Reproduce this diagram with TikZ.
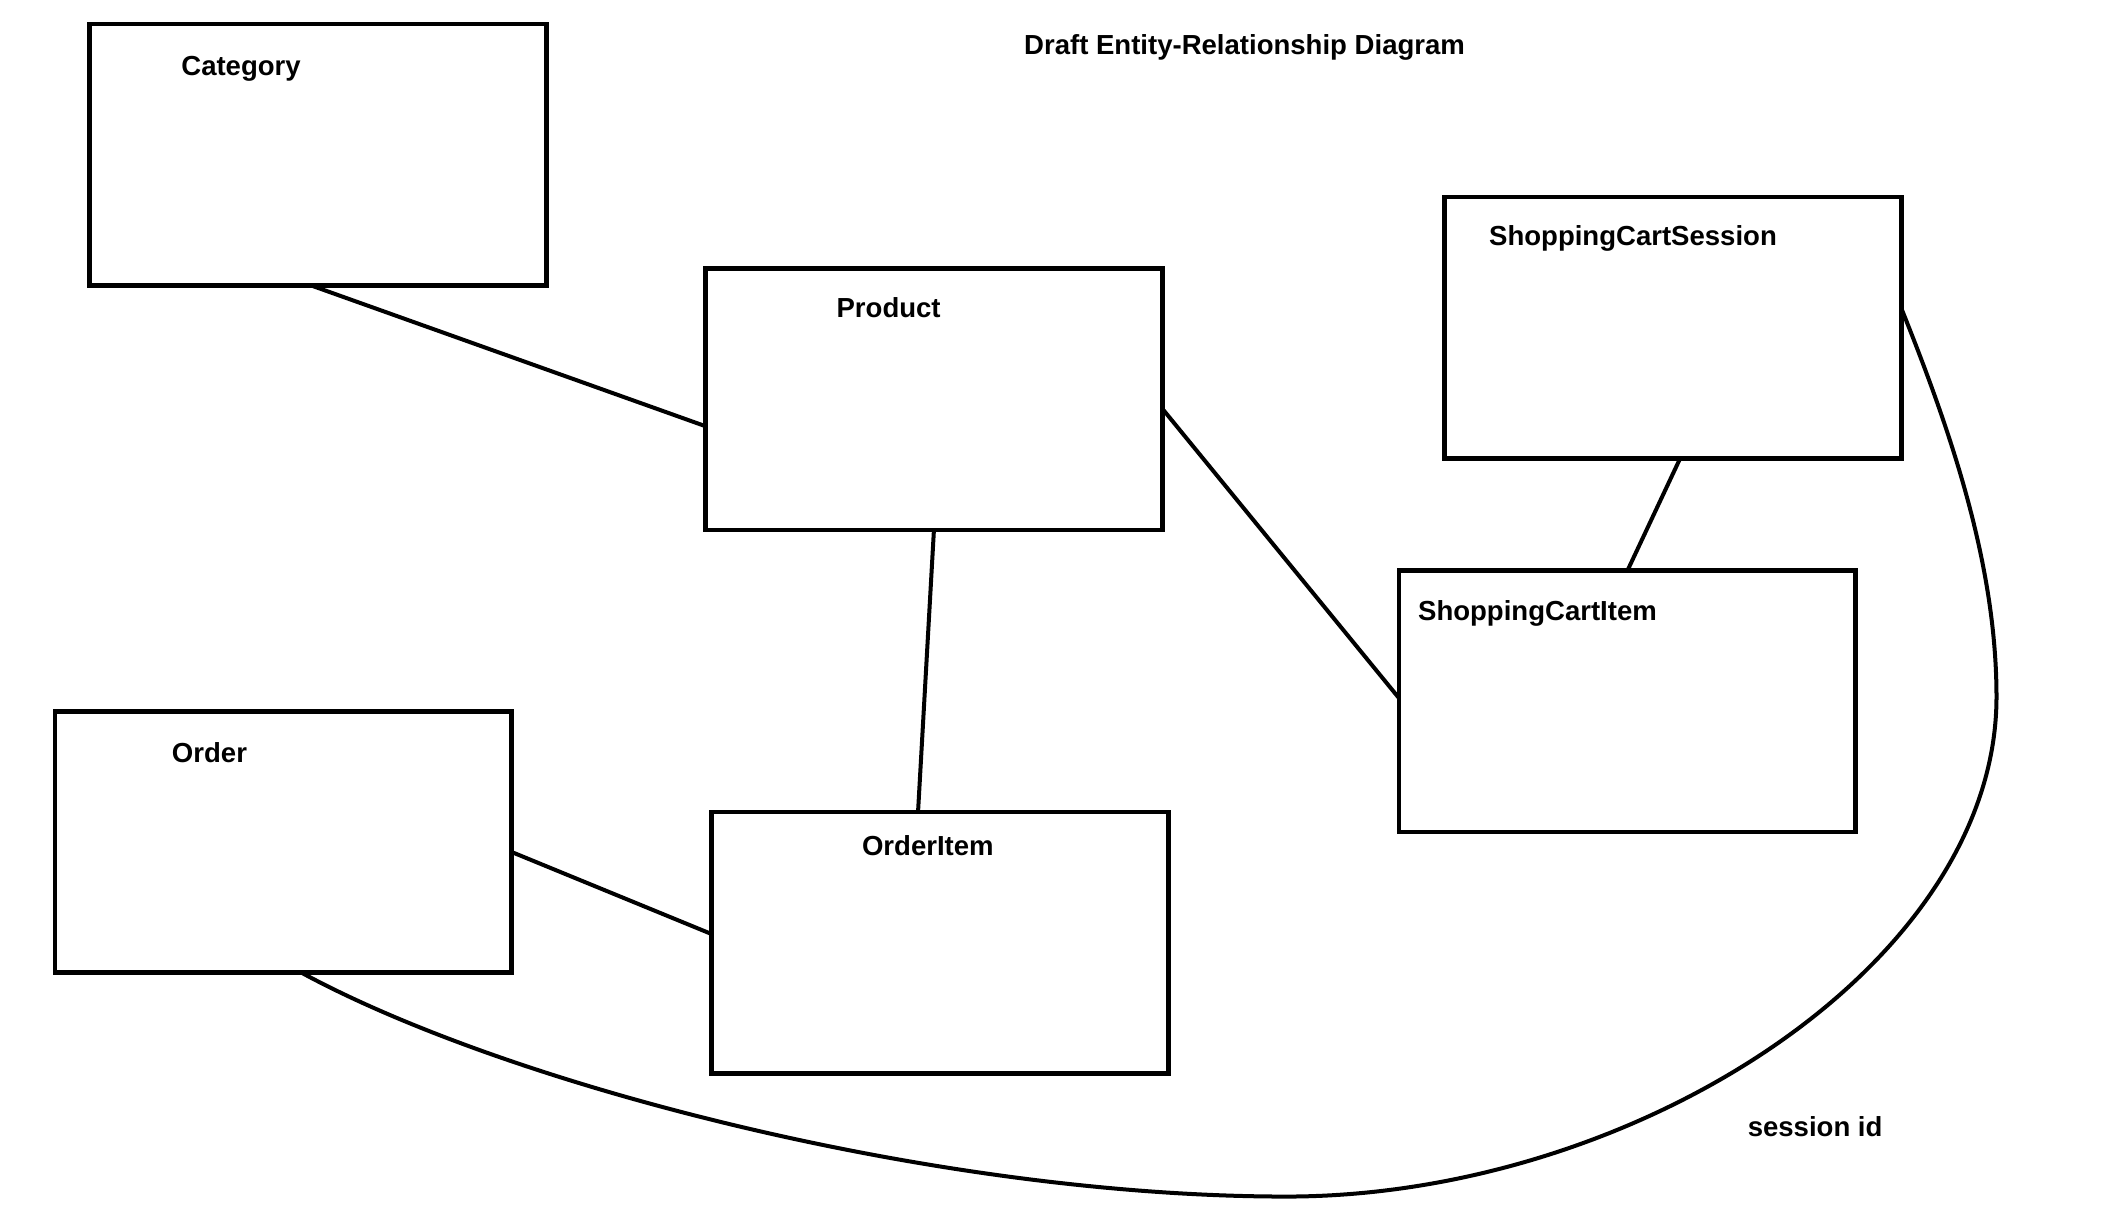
\documentclass[tikz,border=0pt]{standalone}
\usepackage{fontspec}
\setmainfont{Liberation Sans}
\usetikzlibrary{calc}
\begin{document}
\begin{tikzpicture}[x=0.02cm,y=-0.02cm,
  entity/.style={draw=black,line width=2pt,fill=none,minimum width=6.82cm,minimum height=3.9cm,inner sep=0pt,outer sep=0pt},
  lbl/.style={font=\fontsize{11.7}{14}\selectfont\bfseries,anchor=west,inner sep=0pt,text height=0.72em,text depth=0pt},
  rel/.style={draw=black,line width=1.7pt}]
\useasboundingbox[fill=white] (0,0) rectangle (1568,909);
% title
\node[lbl] (title) at (764,34) {Draft Entity-Relationship Diagram};
% entities
\node[entity] (cat)  at (237.5,115.5) {};
\node[entity] (prod) at (697,298) {};
\node[entity] (scs)  at (1248.5,244.5) {};
\node[entity] (sci)  at (1214.5,523.5) {};
\node[entity] (ord)  at (211.5,628.5) {};
\node[entity] (oi)   at (701.5,703.5) {};
% labels
\node[lbl] (catl)  at (135,50) {Category};
\node[lbl] (prodl) at (624,231) {Product};
\node[lbl] (scsl)  at (1111,177) {ShoppingCartSession};
\node[lbl] (scil)  at (1058,457) {ShoppingCartItem};
\node[lbl] (ordl)  at (128,563) {Order};
\node[lbl] (oil)   at (643,632) {OrderItem};
\node[lbl] (sid)   at (1304,842) {session id};
% connectors
\draw[rel] ($(cat.south west)!0.484!(cat.south east)$) -- ($(prod.north west)!0.603!(prod.south west)$);
\draw[rel] (prod.south) -- ($(oi.north west)!0.452!(oi.north east)$);
\draw[rel] ($(prod.north east)!0.536!(prod.south east)$) -- ($(sci.north west)!0.487!(sci.south west)$);
\draw[rel] ($(scs.south west)!0.516!(scs.south east)$) -- (sci.north);
\draw[rel] ($(ord.north east)!0.538!(ord.south east)$) -- ($(oi.north west)!0.467!(oi.south west)$);
\draw[rel] ($(scs.north east)!0.426!(scs.south east)$)
  .. controls (1455,320) and (1490,420) .. (1490,520)
  .. controls (1490,720) and (1220,893) .. (960,893)
  .. controls (700,893) and (380,810) .. ($(ord.south west)!0.54!(ord.south east)$);
\end{tikzpicture}
\end{document}
